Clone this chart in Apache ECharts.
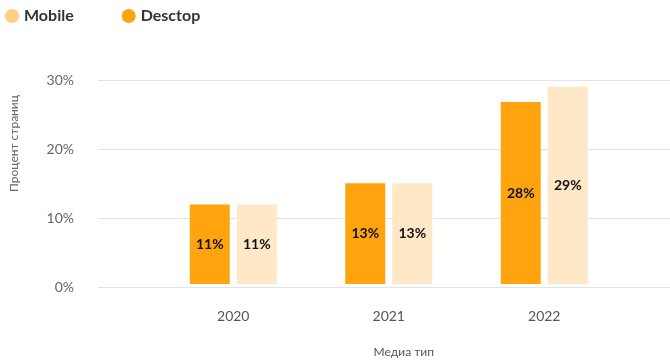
<!DOCTYPE html>
<html>
<head>
<meta charset="utf-8">
<script src="https://cdn.jsdelivr.net/npm/echarts@6/dist/echarts.min.js"></script>
<style>
html,body{margin:0;padding:0;background:#fff;}
#c{width:670px;height:363px;}
</style>
</head>
<body>
<div id="c"></div>
<script>
var categories = ['2020', '2021', '2022'];
var desktopValues = [11.7, 14.8, 26.75];
var mobileValues = [11.7, 14.8, 29.0];
var desktopLabels = ['11%', '13%', '28%'];
var mobileLabels = ['11%', '13%', '29%'];
var yTicks = [0, 10, 20, 30];

var FONT = 'Lato, "Noto Sans", sans-serif';
var chart = echarts.init(document.getElementById('c'), null, {renderer: 'canvas'});

var barLabel = function (arr) {
  return {
    show: true,
    position: 'inside',
    color: '#111',
    fontFamily: FONT,
    fontSize: 14,
    fontWeight: 'bold',
    formatter: function (p) { return arr[p.dataIndex]; }
  };
};

chart.setOption({
  animation: false,
  backgroundColor: '#fff',
  legend: {
    left: 0,
    top: 3,
    itemWidth: 14,
    itemHeight: 14,
    itemGap: 48,
    icon: 'circle',
    textStyle: {fontFamily: FONT, fontSize: 16, fontWeight: 'bold', color: '#333', padding: [0, 0, 0, 0]},
    data: [
      {name: 'Mobile', itemStyle: {color: '#FFD07F'}},
      {name: 'Desctop', itemStyle: {color: '#FFA40E'}}
    ]
  },
  grid: [
    {left: 155.5, right: 48, top: 80, bottom: 76},
    {left: 90, right: 0, top: 80, bottom: 76}
  ],
  xAxis: [
    {
      gridIndex: 0,
      type: 'category',
      data: categories,
      axisLine: {show: false},
      axisTick: {show: false},
      axisLabel: {margin: 25, color: '#555', fontFamily: FONT, fontSize: 14},
      name: 'Медиа тип',
      nameLocation: 'middle',
      nameGap: 62,
      nameTextStyle: {color: '#555', fontFamily: FONT, fontSize: 12, padding: [0, 0, 0, 30]}
    },
    {gridIndex: 1, type: 'value', show: false, min: 0, max: 1}
  ],
  yAxis: [
    {gridIndex: 0, type: 'value', min: 0, max: 30, interval: 10, show: false, splitLine: {show: false}},
    {
      gridIndex: 1,
      type: 'value',
      min: yTicks[0],
      max: yTicks[yTicks.length - 1],
      interval: 10,
      axisLine: {show: false},
      axisTick: {show: false},
      splitLine: {lineStyle: {color: '#e3e3e3', width: 1}},
      axisLabel: {margin: 24, color: '#666', fontFamily: FONT, fontSize: 14, formatter: '{value}%'},
      name: 'Процент страниц',
      nameLocation: 'middle',
      nameGap: 78,
      nameTextStyle: {color: '#666', fontFamily: FONT, fontSize: 12, padding: [0, 0, 0, 80]}
    }
  ],
  series: [
    {
      name: 'Desctop',
      type: 'bar',
      xAxisIndex: 0,
      yAxisIndex: 0,
      data: desktopValues,
      barWidth: 40,
      barGap: '17.5%',
      itemStyle: {color: '#FFA40E'},
      label: barLabel(desktopLabels)
    },
    {
      name: 'Mobile',
      type: 'bar',
      xAxisIndex: 0,
      yAxisIndex: 0,
      data: mobileValues,
      barWidth: 40,
      barGap: '17.5%',
      itemStyle: {color: '#FFE8C8'},
      label: barLabel(mobileLabels)
    }
  ]
});
</script>
</body>
</html>
